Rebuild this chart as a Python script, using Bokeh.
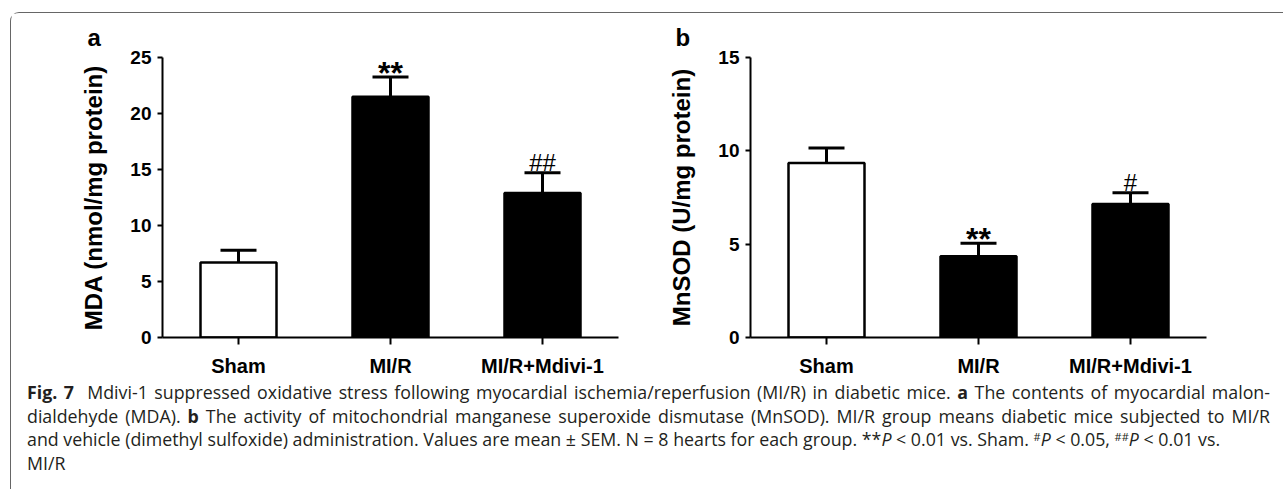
from bokeh.plotting import figure
from bokeh.models import Range1d, Whisker, TeeHead, ColumnDataSource, Div, FixedTicker
from bokeh.layouts import row, column
from bokeh.embed import file_html
from bokeh.resources import INLINE
from bokeh.core.properties import value

# ---------------- data ----------------
groups = ["Sham", "MI/R", "MI/R+Mdivi-1"]
bar_fill = ["white", "black", "black"]

mda_mean = [6.7, 21.5, 12.9]
mda_sem = [1.1, 1.75, 1.8]
mda_marks = ["", "**", "##"]
mda_ticks = [0, 5, 10, 15, 20, 25]

sod_mean = [9.35, 4.35, 7.15]
sod_sem = [0.8, 0.7, 0.6]
sod_marks = ["", "**", "#"]
sod_ticks = [0, 5, 10, 15]

SUP = '<span style="font-size:11px;position:relative;top:-5px;line-height:0">'
caption_lines = [
    "<b>Fig. 7</b>&nbsp; Mdivi-1 suppressed oxidative stress following myocardial ischemia/reperfusion (MI/R) in diabetic mice. <b>a</b> The contents of myocardial malon-",
    "dialdehyde (MDA). <b>b</b> The activity of mitochondrial manganese superoxide dismutase (MnSOD). MI/R group means diabetic mice subjected to MI/R",
    "and vehicle (dimethyl sulfoxide) administration. Values are mean &plusmn; SEM. N = 8 hearts for each group. **<i>P</i> &lt; 0.01 vs. Sham. "
    + SUP + "#</span><i>P</i> &lt; 0.05, " + SUP + "##</span><i>P</i> &lt; 0.01 vs.",
    "MI/R",
]

FONT = "Liberation Sans"


def panel(letter, ylabel, means, sems, marks, ticks, min_left, min_right):
    xs = list(range(len(groups)))
    tops = [m + s for m, s in zip(means, sems)]
    src = ColumnDataSource(dict(x=xs, mean=means, top=tops, fill=bar_fill, mark=marks))
    p = figure(frame_width=456, frame_height=280,
               x_range=Range1d(-0.5, len(groups) - 0.5),
               y_range=Range1d(0, ticks[-1]),
               output_backend="svg", toolbar_location=None,
               min_border_left=min_left, min_border_right=min_right,
               min_border_top=44, min_border_bottom=37)
    p.outline_line_color = None
    p.xgrid.visible = False
    p.ygrid.visible = False

    p.title.text = letter
    p.title.align = "left"
    p.title.offset = -75
    p.title.standoff = 14
    p.title.text_font = FONT
    p.title.text_font_style = "bold"
    p.title.text_font_size = "24px"
    p.title.text_color = "black"

    p.vbar(x="x", top="mean", bottom=0, width=0.5, fill_color="fill",
           line_color="black", line_width=2.5, source=src)
    w = Whisker(source=src, base="x", lower="mean", upper="top", dimension="height",
                line_width=3, line_color="black",
                upper_head=TeeHead(size=36, line_width=3, line_color="black"),
                lower_head=None, level="glyph")
    p.add_layout(w)

    star_idx = [i for i, m in enumerate(marks) if "*" in m]
    hash_idx = [i for i, m in enumerate(marks) if "#" in m]
    if star_idx:
        p.text(x=[xs[i] for i in star_idx], y=[tops[i] for i in star_idx],
               text=[marks[i] for i in star_idx], text_align="center",
               text_baseline="alphabetic", y_offset=-4,
               text_font=value(FONT), text_font_style="bold", text_font_size="32px",
               text_color="black")
    if hash_idx:
        p.text(x=[xs[i] for i in hash_idx], y=[tops[i] for i in hash_idx],
               text=[marks[i] for i in hash_idx], text_align="center",
               text_baseline="alphabetic", y_offset=-10,
               text_font=value(FONT), text_font_style="normal", text_font_size="24px",
               text_color="black")

    # axes
    for ax in (p.xaxis[0], p.yaxis[0]):
        ax.axis_line_width = 2
        ax.axis_line_color = "black"
        ax.major_tick_line_width = 2
        ax.major_tick_line_color = "black"
        ax.major_tick_in = 0
        ax.minor_tick_line_color = None
        ax.major_label_text_font = FONT
        ax.major_label_text_font_style = "bold"
        ax.major_label_text_color = "black"

    xa = p.xaxis[0]
    xa.ticker = FixedTicker(ticks=xs)
    xa.major_label_overrides = {i: g for i, g in enumerate(groups)}
    xa.major_tick_out = 7
    xa.major_label_text_font_size = "20px"
    xa.major_label_standoff = 10

    ya = p.yaxis[0]
    ya.ticker = FixedTicker(ticks=ticks)
    ya.major_tick_out = 5
    ya.major_label_text_font_size = "19px"
    ya.major_label_standoff = 6
    ya.axis_label = ylabel
    ya.axis_label_text_font = FONT
    ya.axis_label_text_font_style = "bold"
    ya.axis_label_text_font_size = "24px"
    ya.axis_label_text_color = "black"
    ya.axis_label_standoff = 20
    return p


pa = panel("a", "MDA (nmol/mg protein)", mda_mean, mda_sem, mda_marks, mda_ticks, 151, 22)
pb = panel("b", "MnSOD (U/mg protein)", sod_mean, sod_sem, sod_marks, sod_ticks, 110, 77)

line_divs = []
for i, ln in enumerate(caption_lines):
    just = "justify" if i < 2 else "left"
    line_divs.append(
        f'<div style="white-space:nowrap;text-align:{just};text-align-last:{just};">{ln}</div>')
html = ('<div style="position:relative;top:2px;width:1243px;font-family:\'Open Sans\';'
        'font-size:17.8px;line-height:23.7px;color:#231f20;">' + "".join(line_divs) + '</div>')
cap = Div(text=html, width=1248, height=128, margin=(0, 0, 0, 16))

layout = column(row(pa, pb), cap, margin=(12, 0, 0, 10),
                styles={"border-left": "1.5px solid #666", "border-top": "1.5px solid #666",
                        "border-top-left-radius": "9px"})

open("out.html", "w").write(file_html(layout, INLINE))
